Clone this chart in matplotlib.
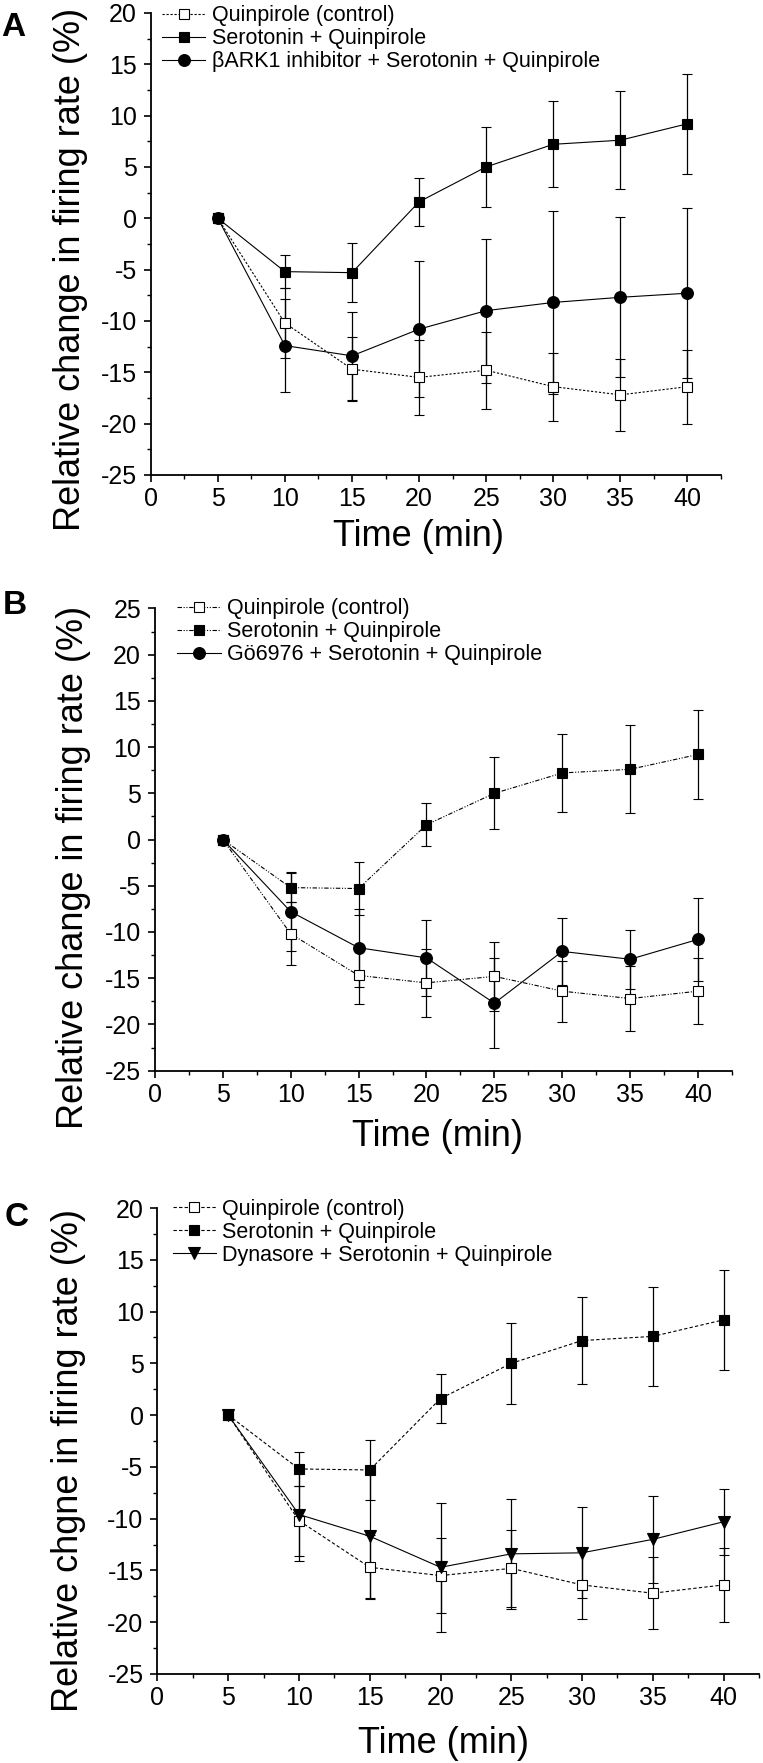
import numpy as np
import matplotlib
matplotlib.use('Agg')
import matplotlib.pyplot as plt
from matplotlib.ticker import MultipleLocator

plt.rcParams['font.family'] = ['Liberation Sans', 'DejaVu Sans']
plt.rcParams['axes.unicode_minus'] = False

# time points (min)
time = [5, 10, 15, 20, 25, 30, 35, 40]

# shared series (same in all three panels)
quin = [0, -10.2, -14.7, -15.5, -14.8, -16.4, -17.2, -16.4]
quin_err = [0, 3.4, 3.1, 3.65, 3.75, 3.3, 3.5, 3.6]
sero = [0, -5.2, -5.3, 1.6, 5.0, 7.2, 7.6, 9.2]
sero_err = [0, 1.6, 2.9, 2.35, 3.9, 4.2, 4.75, 4.85]

# panel A
bark = [0, -12.4, -13.4, -10.8, -9.0, -8.2, -7.7, -7.3]
bark_err = [0, 4.5, 4.3, 6.6, 7.0, 8.9, 7.8, 8.3]
# panel B
go = [0, -7.8, -11.7, -12.8, -17.7, -12.1, -12.95, -10.8]
go_err = [0, 4.3, 4.2, 4.1, 4.9, 3.6, 3.2, 4.5]
# panel C
dyn = [0, -9.6, -11.7, -14.7, -13.4, -13.3, -12.0, -10.3]
dyn_err = [0, 4.5, 6.0, 6.2, 5.3, 4.4, 4.2, 3.2]

lab_quin = "Quinpirole (control)"
lab_sero = "Serotonin + Quinpirole"
lab_bark = "\u03B2ARK1 inhibitor + Serotonin + Quinpirole"
lab_go = "G\u00f66976 + Serotonin + Quinpirole"
lab_dyn = "Dynasore + Serotonin + Quinpirole"

dotted = (0, (2, 1.6))
dashdotdot = (0, (4, 1.5, 1, 1.5, 1, 1.5))
dashed = (0, (3, 2))


def series(ax, y, err, ls, marker, fill, label, ms=7.8):
    ax.errorbar(time, y, yerr=err, fmt='none', ecolor='black', elinewidth=0.9,
                capsize=3.3, capthick=0.8, zorder=2)
    ax.plot(time, y, color='black', linestyle=ls, linewidth=0.8, marker=marker,
            markersize=ms, markerfacecolor=fill, markeredgecolor='black',
            markeredgewidth=0.8, label=label, zorder=3)


def style(ax, ytop, ylabel, ylab_xy, xlab_xy, leg_xy):
    ax.set_xlim(0, 42.5)
    ax.set_ylim(-25, ytop)
    ax.xaxis.set_major_locator(MultipleLocator(5))
    ax.xaxis.set_minor_locator(MultipleLocator(2.5))
    ax.yaxis.set_major_locator(MultipleLocator(5))
    ax.yaxis.set_minor_locator(MultipleLocator(2.5))
    for s in ['top', 'right']:
        ax.spines[s].set_visible(False)
    for s in ['left', 'bottom']:
        ax.spines[s].set_linewidth(1.3)
    ax.tick_params(which='major', direction='out', length=5, width=1.2, labelsize=18)
    ax.tick_params(which='minor', direction='out', length=3, width=1.0)
    ax.tick_params(axis='x', pad=4)
    ax.tick_params(axis='y', pad=5)
    ax.set_xlabel('Time (min)', fontsize=26)
    ax.set_ylabel(ylabel, fontsize=26)
    ax.xaxis.set_label_coords(*xlab_xy)
    ax.xaxis.label.set_va('center')
    ax.yaxis.set_label_coords(*ylab_xy)
    ax.yaxis.label.set_va('center')
    ax.legend(loc='upper left', bbox_to_anchor=leg_xy, frameon=False, fontsize=15.5,
              handlelength=2.0, handletextpad=0.3, labelspacing=0.09,
              borderpad=0, borderaxespad=0, numpoints=1)


fig = plt.figure(figsize=(7.63, 17.63), dpi=100)

# A
axA = fig.add_axes([0.1975, 0.7306, 0.7475, 0.2621])
series(axA, quin, quin_err, dotted, 's', 'white', lab_quin)
series(axA, sero, sero_err, '-', 's', 'black', lab_sero)
series(axA, bark, bark_err, '-', 'o', 'black', lab_bark, ms=8.5)
style(axA, 20, 'Relative change in firing rate (%)', (-0.14, 0.445), (0.47, -0.134), (0.02, 1.016))

# B
axB = fig.add_axes([0.2031, 0.3927, 0.7562, 0.2622])
series(axB, quin, quin_err, dashdotdot, 's', 'white', lab_quin)
series(axB, sero, sero_err, dashdotdot, 's', 'black', lab_sero)
series(axB, go, go_err, '-', 'o', 'black', lab_go, ms=8.5)
style(axB, 25, 'Relative change in firing rate (%)', (-0.142, 0.439), (0.49, -0.143), (0.039, 1.022))

# C
axC = fig.add_axes([0.2064, 0.0505, 0.7883, 0.2643])
series(axC, quin, quin_err, dashed, 's', 'white', lab_quin)
series(axC, sero, sero_err, dashed, 's', 'black', lab_sero)
series(axC, dyn, dyn_err, '-', 'v', 'black', lab_dyn, ms=8.5)
style(axC, 20, 'Relative chgne in firing rate (%)', (-0.148, 0.459), (0.475, -0.15), (0.025, 1.02))

fig.text(13 / 763, 1 - 27 / 1763, 'A', fontsize=24, fontweight='bold', ha='center', va='center')
fig.text(15 / 763, 1 - 605 / 1763, 'B', fontsize=24, fontweight='bold', ha='center', va='center')
fig.text(17 / 763, 1 - 1218 / 1763, 'C', fontsize=24, fontweight='bold', ha='center', va='center')

fig.savefig('out.png', dpi=100)
